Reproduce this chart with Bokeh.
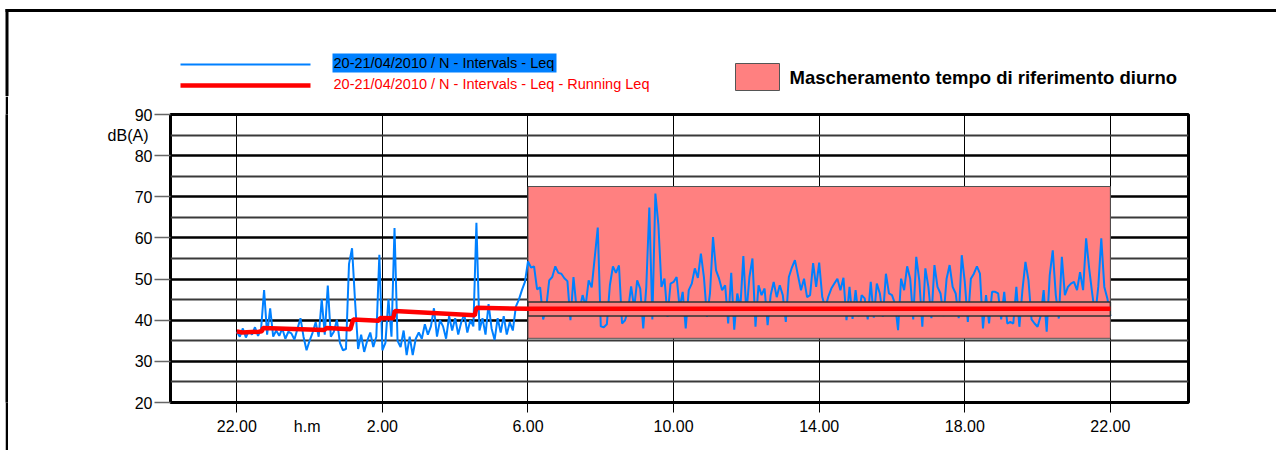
from bokeh.plotting import figure
from bokeh.models import FixedTicker, Range1d, LinearAxis, Spacer
from bokeh.layouts import column, row
from bokeh.embed import file_html
from bokeh.resources import INLINE
from bokeh.core.properties import value

# ---------------- data ----------------
# Leq dB(A), one value every 5 minutes, starting 22.00 (20/04) until 22.00 (21/04)
leq_22_02 = [37.2, 36.0, 38.0, 35.8, 37.5, 36.5, 38.3, 36.2, 37.8, 47.3, 36.5, 42.9,
             36.0, 37.5, 36.2, 38.0, 35.5, 37.2, 36.8, 35.3, 37.9, 40.5, 36.0, 32.7,
             35.0, 37.0, 39.5, 36.0, 45.1, 36.5, 48.4, 36.0, 37.2, 40.1, 34.5, 32.7,
             33.0, 53.7, 57.5, 44.5, 33.0, 36.5, 32.3, 35.0, 37.0, 33.5, 36.0, 55.9]
leq_02_06 = [32.7, 34.5, 45.1, 36.0, 62.4, 35.0, 33.5, 37.5, 31.5, 36.0, 31.5, 35.5,
             37.0, 35.5, 39.0, 36.5, 38.5, 42.9, 36.0, 40.0, 38.5, 35.5, 41.0, 37.5,
             40.5, 36.5, 39.5, 41.5, 37.0, 40.0, 38.5, 63.7, 37.5, 40.5, 36.5, 43.9,
             38.0, 35.2, 40.5, 37.0, 41.0, 36.5, 39.5, 37.5, 43.3, 45.0, 47.3, 49.3]
leq_06_10 = [54.3, 52.8, 53.1, 47.5, 48.0, 40.2, 43.0, 49.7, 50.5, 53.1, 51.5, 51.3,
             50.2, 49.5, 40.0, 50.5, 43.0, 42.5, 46.1, 43.5, 49.7, 48.0, 55.2, 62.5,
             38.5, 38.3, 39.0, 48.5, 53.1, 51.5, 53.3, 39.2, 40.0, 42.5, 48.2, 43.0,
             49.7, 47.7, 38.0, 48.1, 67.4, 40.2, 70.8, 63.1, 48.1, 50.1, 40.8, 48.9]
leq_10_14 = [49.3, 50.5, 43.0, 46.9, 38.0, 47.3, 48.9, 52.6, 50.3, 56.2, 50.5, 40.8,
             46.5, 60.2, 52.1, 50.1, 47.3, 48.5, 39.2, 51.5, 37.7, 46.5, 43.0, 55.6,
             41.5, 50.5, 55.0, 38.4, 48.5, 46.1, 47.7, 38.8, 46.1, 49.3, 45.6, 48.5,
             46.1, 39.6, 50.5, 52.8, 54.6, 50.9, 47.3, 50.1, 45.6, 46.1, 53.9, 48.1]
leq_14_18 = [54.0, 45.7, 43.0, 45.7, 47.7, 48.9, 50.1, 47.3, 50.3, 40.0, 48.1, 40.3,
             47.3, 41.0, 46.1, 45.3, 40.2, 49.3, 40.6, 48.9, 46.5, 40.8, 51.3, 46.5,
             46.1, 44.0, 37.6, 50.1, 47.3, 53.1, 50.1, 40.2, 55.4, 49.7, 38.4, 52.6,
             48.1, 40.5, 53.4, 48.1, 46.5, 41.0, 50.1, 53.4, 48.1, 46.5, 40.5, 55.8]
leq_18_22 = [49.3, 39.6, 50.1, 51.3, 53.1, 51.3, 38.0, 46.1, 39.2, 46.9, 46.9, 46.5,
             40.2, 46.9, 39.2, 39.6, 39.2, 48.1, 38.4, 47.3, 54.2, 49.7, 40.2, 39.2,
             38.4, 41.0, 47.3, 37.2, 50.9, 57.0, 46.1, 40.4, 55.4, 46.1, 48.1, 48.9,
             49.3, 47.3, 51.7, 47.3, 59.9, 52.6, 46.5, 41.2, 48.1, 59.9, 48.1, 45.3, 41.0]

# Running Leq (hours after 22.00, dB(A))
run_hours = [0.0, 0.15, 0.6, 0.69, 0.72, 2.40, 2.46, 3.12, 3.20, 3.90, 3.94,
             4.30, 4.34, 6.54, 6.58, 8.0, 24.0]
run_leq = [37.3, 37.0, 37.2, 37.3, 38.1, 37.6, 38.1, 37.8, 40.2, 39.85, 40.55,
           40.5, 42.25, 41.2, 43.0, 42.8, 42.8]

# day-time reference masking (hours after 22.00, dB(A))
mask_start, mask_end = 8.0, 24.0
mask_low, mask_high = 35.6, 72.5
band_low, band_high = 41.0, 44.45

tick_hours = [0, 4, 8, 12, 16, 20, 24]
tick_labels = ["22.00", "2.00", "6.00", "10.00", "14.00", "18.00", "22.00"]
x_unit_pos, x_unit_label = 1.934, "h.m"
y_major = [20, 30, 40, 50, 60, 70, 80, 90]
y_minor = [25, 35, 45, 55, 65, 75, 85]
y_unit_pos, y_unit_label = 85, "dB(A)"

legend_blue = "20-21/04/2010 / N - Intervals - Leq"
legend_red = "20-21/04/2010 / N - Intervals - Leq - Running Leq"
legend_mask = "Mascheramento tempo di riferimento diurno"

leq = leq_22_02 + leq_02_06 + leq_06_10 + leq_10_14 + leq_14_18 + leq_18_22
hours = [i / 12 for i in range(len(leq))]

BLUE = "#0080FF"
RED = "#FF0000"
PINK = "#FF8080"
FONT = "Liberation Sans"
TICK_FS = "16px"

# ---------------- header (legend) ----------------
HEAD_H = 96
header = figure(width=1276, height=HEAD_H, x_range=Range1d(0, 1276),
                y_range=Range1d(HEAD_H, 0), x_axis_type=None, y_axis_type=None,
                min_border=0, output_backend="svg", toolbar_location=None,
                outline_line_color=None, background_fill_color="white",
                border_fill_color="white")
# outer frame (top and left)
header.quad(left=[5], right=[1276], top=[8.5], bottom=[11.5],
            fill_color="black", line_color=None)
header.quad(left=[5], right=[8], top=[8.5], bottom=[HEAD_H],
            fill_color="black", line_color=None)
# legend samples
header.segment(x0=[180], x1=[310], y0=[64], y1=[64], line_color=BLUE, line_width=2)
header.segment(x0=[180], x1=[310], y0=[85], y1=[85], line_color=RED, line_width=4.7)
header.quad(left=[332], right=[556], top=[53], bottom=[72], fill_color=BLUE,
            line_color=None)
header.text(x=[333], y=[62.5], text=[legend_blue], text_font=value(FONT),
            text_font_size="14.5px", text_color="black",
            text_baseline="alphabetic", text_align="left")
header.text(x=[333], y=[83.5], text=[legend_red], text_font=value(FONT),
            text_font_size="14.5px", text_color=RED,
            text_baseline="alphabetic", text_align="left")
header.quad(left=[735], right=[779], top=[63], bottom=[90], fill_color=PINK,
            line_color="#555555", line_width=1)
header.text(x=[789], y=[77.0], text=[legend_mask], text_font=value(FONT),
            text_font_size="18.5px", text_font_style="bold", text_color="black",
            text_baseline="alphabetic", text_align="left")

# ---------------- left frame line ----------------
MAIN_H = 450 - HEAD_H
gap = Spacer(width=5, height=MAIN_H)
strip = figure(width=3, height=MAIN_H, x_range=Range1d(0, 1), y_range=Range1d(0, 1),
               x_axis_type=None, y_axis_type=None, min_border=0,
               output_backend="svg", toolbar_location=None,
               outline_line_color=None, background_fill_color="black",
               border_fill_color="black")

# ---------------- main chart ----------------
p = figure(width=1268, height=MAIN_H,
           x_range=Range1d(-1.821, 26.146), y_range=Range1d(20, 90),
           output_backend="svg", toolbar_location=None,
           min_border_left=162, min_border_right=88,
           min_border_top=114 - HEAD_H, min_border_bottom=48,
           background_fill_color="white", border_fill_color="white")
p.outline_line_color = "black"
p.outline_line_width = 3

# x axis
xa = p.xaxis[0]
xa.ticker = FixedTicker(ticks=tick_hours)
xa.major_label_overrides = {h: l for h, l in zip(tick_hours, tick_labels)}
xa.major_tick_out = 10
xa.major_tick_in = 0
xa.major_tick_line_color = "black"
xa.major_tick_line_width = 1
xa.minor_tick_line_color = None
xa.axis_line_color = None
xa.major_label_standoff = 7
xa.major_label_text_font = FONT
xa.major_label_text_font_size = TICK_FS
xa.major_label_text_color = "black"

# x unit label, on the tick-label row
xb = LinearAxis(ticker=FixedTicker(ticks=[x_unit_pos]),
                major_label_overrides={x_unit_pos: x_unit_label})
xb.major_tick_out = 0
xb.major_tick_in = 0
xb.major_tick_line_color = None
xb.minor_tick_line_color = None
xb.axis_line_color = None
xb.major_label_standoff = -17
xb.major_label_text_font = FONT
xb.major_label_text_font_size = TICK_FS
xb.major_label_text_color = "black"
p.add_layout(xb, "below")

# y axis
ya = p.yaxis[0]
ya.ticker = FixedTicker(ticks=y_major)
ya.major_tick_out = 16
ya.major_tick_in = 0
ya.major_tick_line_color = "#666666"
ya.major_tick_line_width = 1.5
ya.minor_tick_line_color = None
ya.axis_line_color = None
ya.major_label_standoff = 2
ya.major_label_text_font = FONT
ya.major_label_text_font_size = TICK_FS
ya.major_label_text_color = "black"

# y unit label, under the top tick label
yb = LinearAxis(ticker=FixedTicker(ticks=[y_unit_pos]),
                major_label_overrides={y_unit_pos: y_unit_label})
yb.major_tick_out = 0
yb.major_tick_in = 0
yb.major_tick_line_color = None
yb.minor_tick_line_color = None
yb.axis_line_color = None
yb.major_label_standoff = -17
yb.major_label_text_font = FONT
yb.major_label_text_font_size = TICK_FS
yb.major_label_text_color = "black"
p.add_layout(yb, "left")

# grids
p.xgrid.ticker = FixedTicker(ticks=tick_hours)
p.xgrid.grid_line_color = "black"
p.xgrid.grid_line_width = 1
p.ygrid.ticker = FixedTicker(ticks=y_major, minor_ticks=y_minor)
p.ygrid.grid_line_color = "black"
p.ygrid.grid_line_width = 2.5
p.ygrid.minor_grid_line_color = "#3a3a3a"
p.ygrid.minor_grid_line_width = 2

# masking box
p.quad(left=[mask_start], right=[mask_end], bottom=[mask_low], top=[mask_high],
       fill_color=PINK, line_color="#505050", line_width=1)
# Leq
p.line(hours, leq, line_color=BLUE, line_width=2)
# inner masking band
p.quad(left=[mask_start], right=[mask_end], bottom=[band_low], top=[band_high],
       fill_color=PINK, line_color="#303030", line_width=1.5)
# running Leq
p.line(run_hours, run_leq, line_color=RED, line_width=4.5)

layout = column(header, row(gap, strip, p))
open("out.html", "w").write(file_html(layout, INLINE))
